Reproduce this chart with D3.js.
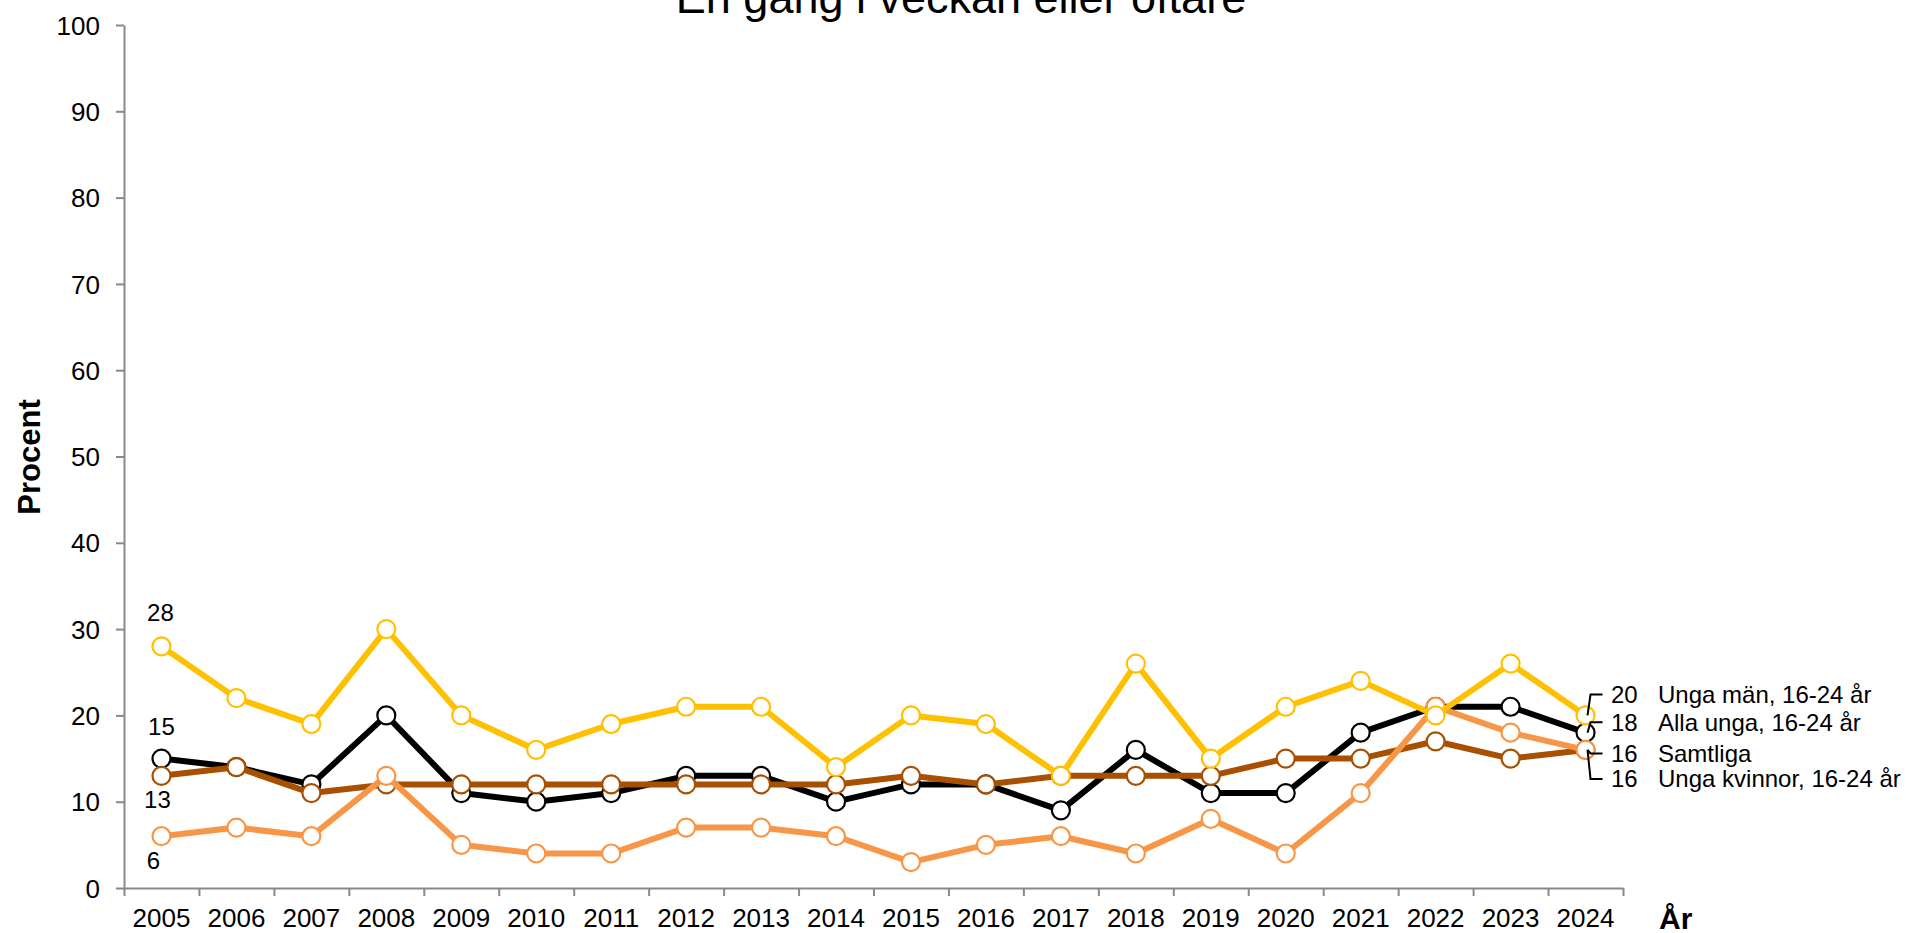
<!DOCTYPE html>
<html>
<head>
<meta charset="utf-8">
<title>En gång i veckan eller oftare</title>
<style>
  body { margin: 0; background: #fff; }
  svg { display: block; font-family: "Liberation Sans", Arial, sans-serif; }
  .axis path, .axis line { stroke: #898989; stroke-width: 2; }
  .axis text { font-size: 26px; fill: #000; }
  .serie-line { fill: none; stroke-width: 6; stroke-linejoin: round; }
  .serie-dot { fill: #fff; stroke-width: 2.2; }
  .lbl { font-size: 24px; fill: #000; }
  .leader { fill: none; stroke: #000; stroke-width: 2; }
</style>
</head>
<body>
<svg width="1906" height="933"></svg>
<script src="https://cdnjs.cloudflare.com/ajax/libs/d3/7.8.5/d3.min.js"></script>
<script>
// data
var years = ["2005","2006","2007","2008","2009","2010","2011","2012","2013","2014",
             "2015","2016","2017","2018","2019","2020","2021","2022","2023","2024"];
var allaUnga    = [15,14,12,20,11,10,11,13,13,10,12,12, 9,16,11,11,18,21,21,18];
var samtliga    = [13,14,11,12,12,12,12,12,12,12,13,12,13,13,13,15,15,17,15,16];
var ungaKvinnor = [ 6, 7, 6,13, 5, 4, 4, 7, 7, 6, 3, 5, 6, 4, 8, 4,11,21,18,16];
var ungaMan     = [28,22,19,30,20,16,19,21,21,14,20,19,13,26,15,21,24,20,26,20];
var yTicks = [0,10,20,30,40,50,60,70,80,90,100];

// drawn in this order (last on top)
var series = [
  {name: "Alla unga, 16-24 år",    values: allaUnga,    color: "#000000"},
  {name: "Samtliga",               values: samtliga,    color: "#A84F00"},
  {name: "Unga kvinnor, 16-24 år", values: ungaKvinnor, color: "#F79646"},
  {name: "Unga män, 16-24 år",     values: ungaMan,     color: "#FFC000"}
];
// end labels, top to bottom, with offset from the point in px
var endOrder = [
  {s: 3, dy: -21}, {s: 0, dy: -10.5}, {s: 1, dy: 3.5}, {s: 2, dy: 29}
];
// first-year labels
var startLbl = [
  {s: 3, dx: -1, dy: -34}, {s: 0, dx: 0, dy: -32},
  {s: 1, dx: -4, dy: 24}, {s: 2, dx: -8, dy: 24}
];

var svg = d3.select("svg");
var plotL = 124, plotR = 1623, plotT = 25, plotB = 888;

var x = d3.scaleBand().domain(years).range([plotL, plotR]);
var xb = d3.scaleLinear().domain([0, years.length]).range([plotL, plotR]);
var y = d3.scaleLinear().domain([0, 100]).range([plotB, plotT]);
function cx(i) { return x(years[i]) + x.bandwidth() / 2; }

// title (partly above the canvas like the original)
svg.append("text")
    .attr("x", 961).attr("y", 13)
    .attr("text-anchor", "middle")
    .style("font-size", "45px")
    .text("En gång i veckan eller oftare");

// y axis
svg.append("g").attr("class", "axis")
    .attr("transform", "translate(" + plotL + ",0)")
    .call(d3.axisLeft(y).tickValues(yTicks).tickSize(8).tickSizeOuter(0).tickPadding(16))
    .selectAll("text").attr("dy", "0.35em");

// x axis: ticks on the band edges, labels in the middle
svg.append("g").attr("class", "axis")
    .attr("transform", "translate(0," + plotB + ")")
    .call(d3.axisBottom(xb).ticks(years.length).tickSize(8).tickSizeOuter(0).tickFormat(""));
svg.append("g").attr("class", "axis")
    .attr("transform", "translate(0," + plotB + ")")
    .call(d3.axisBottom(x).tickSize(0).tickPadding(21))
    .call(function(g) { g.select(".domain").remove(); });

svg.append("text")
    .attr("transform", "translate(40,457) rotate(-90)")
    .attr("text-anchor", "middle")
    .style("font-size", "31px").style("font-weight", "bold")
    .text("Procent");
svg.append("text")
    .attr("x", 1659).attr("y", 929)
    .style("font-size", "30px").style("font-weight", "bold")
    .text("År");

var line = d3.line()
    .x(function(d, i) { return cx(i); })
    .y(function(d) { return y(d); });

var g = svg.selectAll(".serie")
  .data(series)
  .enter().append("g")
    .attr("class", "serie");

g.append("path")
    .attr("class", "serie-line")
    .attr("stroke", function(d) { return d.color; })
    .attr("d", function(d) { return line(d.values); });

g.each(function(s) {
  d3.select(this).selectAll("circle")
    .data(s.values)
    .enter().append("circle")
      .attr("class", "serie-dot")
      .attr("stroke", s.color)
      .attr("cx", function(d, i) { return cx(i); })
      .attr("cy", function(d) { return y(d); })
      .attr("r", 9);
});

// labels at 2005
startLbl.forEach(function(l) {
  var v = series[l.s].values[0];
  svg.append("text").attr("class", "lbl")
      .attr("x", cx(0) + l.dx)
      .attr("y", y(v) + l.dy)
      .attr("dy", "0.35em")
      .attr("text-anchor", "middle")
      .text(v);
});

// labels at 2024 with leader lines
var last = years.length - 1;
endOrder.forEach(function(l) {
  var v = series[l.s].values[last];
  var px = cx(last), py = y(v), ly = py + l.dy;
  svg.append("path").attr("class", "leader")
      .attr("d", d3.line()([[px + 2, py], [px + 5, ly], [px + 17, ly]]));
  svg.append("text").attr("class", "lbl")
      .attr("x", 1611).attr("y", ly).attr("dy", "0.35em")
      .text(v);
  svg.append("text").attr("class", "lbl")
      .attr("x", 1658).attr("y", ly).attr("dy", "0.35em")
      .text(series[l.s].name);
});
</script>
</body>
</html>
